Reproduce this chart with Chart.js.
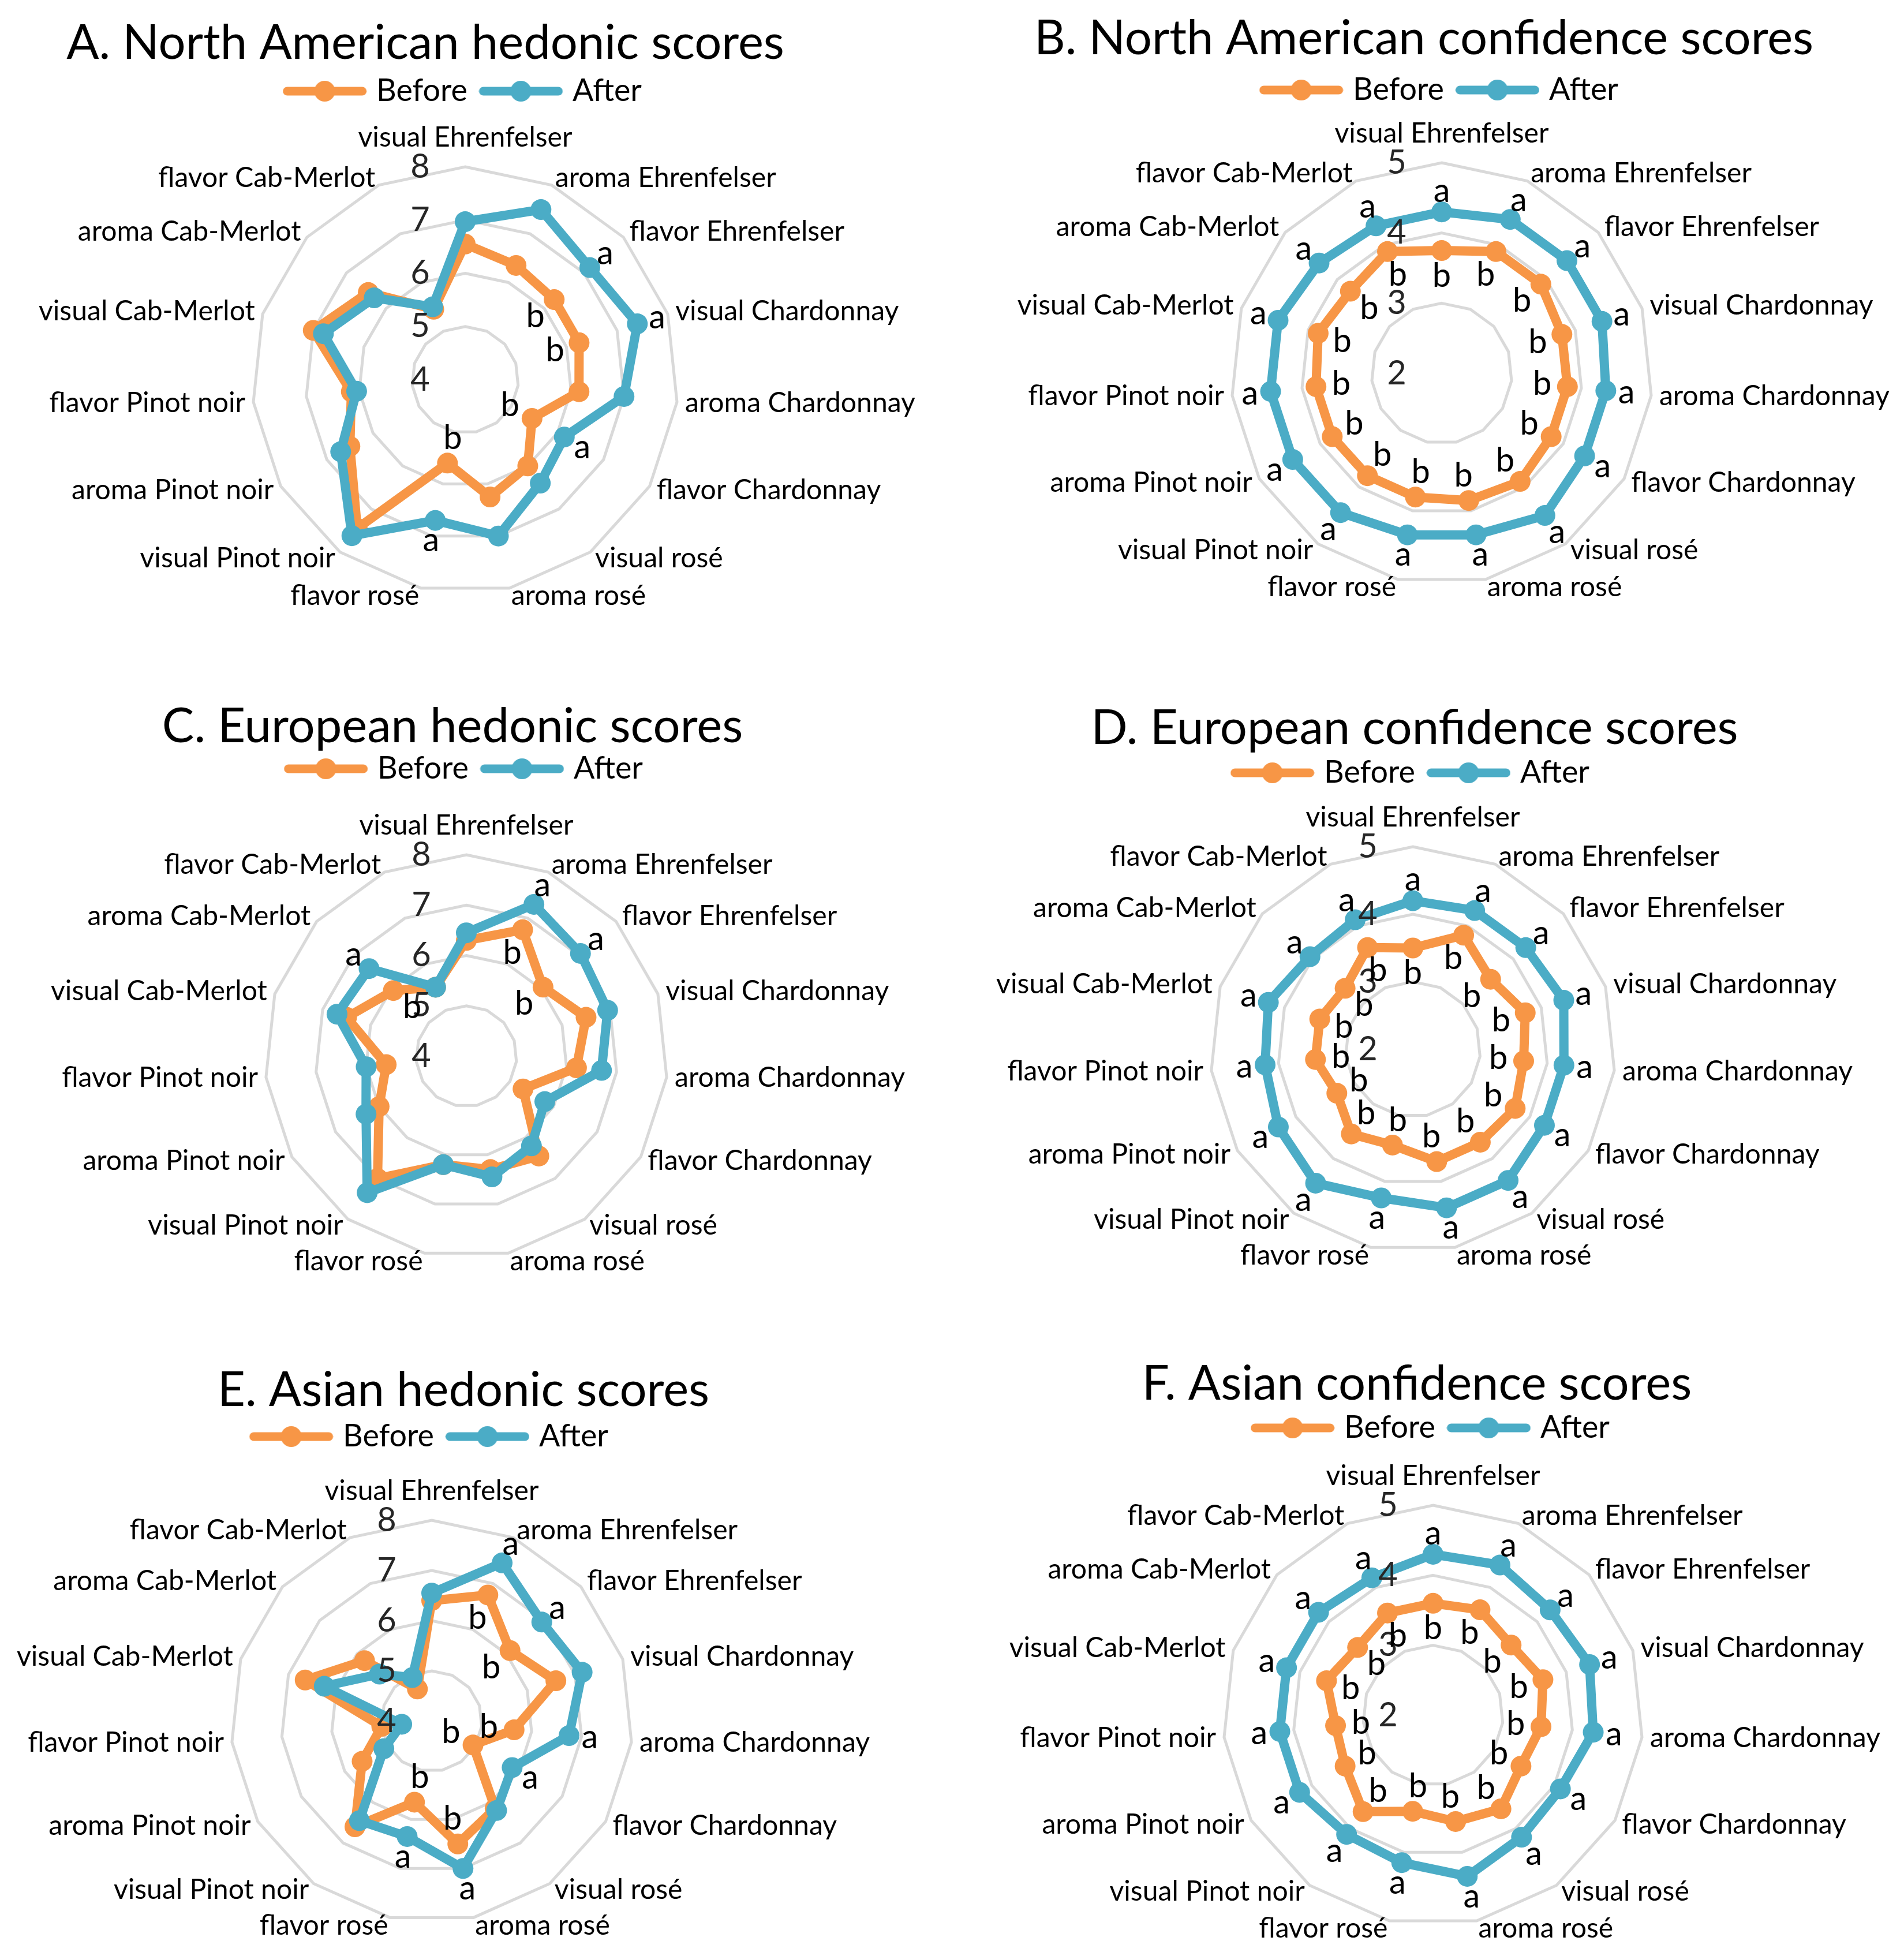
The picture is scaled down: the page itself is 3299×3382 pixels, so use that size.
<!DOCTYPE html>
<html>
<head>
<meta charset="utf-8">
<title>Hedonic and confidence scores before and after</title>
<script src="https://cdn.jsdelivr.net/npm/chart.js@4.4.1/dist/chart.umd.min.js"></script>
<style>
  html, body { margin: 0; padding: 0; background: #fff; }
  #page { position: relative; width: 3299px; height: 3382px; overflow: hidden; background: #fff; }
  #page canvas { position: absolute; }
</style>
</head>
<body>
<div id="page"></div>
<script>
// =============================================================================
// Radar panels: hedonic / confidence scores, before vs after
// =============================================================================

// ---------------------------------------------------------------------------
// Data
// ---------------------------------------------------------------------------
const CATEGORIES = [
  "visual Ehrenfelser", "aroma Ehrenfelser", "flavor Ehrenfelser",
  "visual Chardonnay", "aroma Chardonnay", "flavor Chardonnay",
  "visual rosé", "aroma rosé", "flavor rosé",
  "visual Pinot noir", "aroma Pinot noir", "flavor Pinot noir",
  "visual Cab-Merlot", "aroma Cab-Merlot", "flavor Cab-Merlot"
];
const SERIES = ["Before", "After"];

const HEDONIC_RANGE = [4, 8];
const CONFIDENCE_RANGE = [2, 5];

// A. North American hedonic
const A_BEFORE = [6.55, 6.35, 6.25, 6.25, 6.15, 5.45, 6.0, 6.25, 5.6, 7.45, 6.5, 6.15, 7.0, 6.45, 5.45];
const A_AFTER  = [6.97, 7.5, 7.15, 7.4, 7.0, 6.15, 6.4, 7.0, 6.7, 7.62, 6.7, 6.05, 6.8, 6.3, 5.5];
const A_SIG = [2, 3, 5, 8];

// B. North American confidence
const B_BEFORE = [3.75, 3.9, 3.9, 3.8, 3.8, 3.8, 3.9, 3.85, 3.8, 3.8, 3.8, 3.8, 3.85, 3.75, 3.9];
const B_AFTER  = [4.3, 4.4, 4.4, 4.4, 4.35, 4.35, 4.5, 4.35, 4.35, 4.45, 4.45, 4.45, 4.45, 4.35, 4.3];
const B_SIG = [0, 1, 2, 3, 4, 5, 6, 7, 8, 9, 10, 11, 12, 13, 14];

// C. European hedonic
const C_BEFORE = [6.3, 6.75, 6.05, 6.5, 6.2, 5.3, 6.45, 6.3, 6.2, 7.0, 6.0, 5.6, 6.5, 5.95, 5.5];
const C_AFTER  = [6.45, 7.3, 7.05, 6.95, 6.7, 5.8, 6.2, 6.45, 6.2, 7.35, 6.3, 6.0, 6.7, 6.6, 5.5];
const C_SIG = [1, 2, 13];

// D. European confidence
const D_BEFORE = [3.5, 3.85, 3.55, 3.75, 3.65, 3.75, 3.7, 3.7, 3.45, 3.55, 3.3, 3.45, 3.45, 3.35, 3.65];
const D_AFTER  = [4.2, 4.25, 4.25, 4.35, 4.25, 4.25, 4.4, 4.4, 4.25, 4.45, 4.3, 4.2, 4.25, 4.05, 4.1];
const D_SIG = [0, 1, 2, 3, 4, 5, 6, 7, 8, 9, 10, 11, 12, 13, 14];

// E. Asian hedonic
const E_BEFORE = [6.4, 6.75, 6.1, 6.6, 5.65, 4.95, 6.15, 6.5, 5.65, 6.6, 5.6, 5.0, 6.65, 5.8, 4.7];
const E_AFTER  = [6.55, 7.45, 6.95, 7.15, 6.75, 5.85, 6.2, 7.0, 6.35, 6.45, 5.1, 4.6, 6.25, 5.4, 4.95];
const E_SIG = [1, 2, 4, 5, 7, 8];

// F. Asian confidence
const F_BEFORE = [3.6, 3.65, 3.5, 3.65, 3.55, 3.45, 3.65, 3.55, 3.4, 3.7, 3.45, 3.4, 3.6, 3.45, 3.6];
const F_AFTER  = [4.3, 4.35, 4.25, 4.35, 4.3, 4.1, 4.15, 4.35, 4.15, 4.1, 4.2, 4.2, 4.2, 4.2, 4.15];
const F_SIG = [0, 1, 2, 3, 4, 5, 6, 7, 8, 9, 10, 11, 12, 13, 14];

// ---------------------------------------------------------------------------
// Panel layout (page pixels)
// ---------------------------------------------------------------------------
const PANELS = [
  { title: "A. North American hedonic scores", range: HEDONIC_RANGE, before: A_BEFORE, after: A_AFTER, sig: A_SIG,
    left: 0, top: 0, width: 1585, cx: 806, cy: 658, R: 369, titleX: 737, titleY: 102, legendY: 158 },
  { title: "B. North American confidence scores", range: CONFIDENCE_RANGE, before: B_BEFORE, after: B_AFTER, sig: B_SIG,
    left: 1650, top: 0, width: 1649, cx: 2498, cy: 647, R: 365, titleX: 2467, titleY: 94, legendY: 156 },
  { title: "C. European hedonic scores", range: HEDONIC_RANGE, before: C_BEFORE, after: C_AFTER, sig: C_SIG,
    left: 0, top: 1140, width: 1650, cx: 808, cy: 1830, R: 349, titleX: 784, titleY: 1286, legendY: 1332 },
  { title: "D. European confidence scores", range: CONFIDENCE_RANGE, before: D_BEFORE, after: D_AFTER, sig: D_SIG,
    left: 1650, top: 1140, width: 1649, cx: 2448, cy: 1818, R: 351, titleX: 2451, titleY: 1289, legendY: 1339 },
  { title: "E. Asian hedonic scores", range: HEDONIC_RANGE, before: E_BEFORE, after: E_AFTER, sig: E_SIG,
    left: 0, top: 2270, width: 1650, cx: 748, cy: 2982, R: 348, titleX: 803, titleY: 2436, legendY: 2489 },
  { title: "F. Asian confidence scores", range: CONFIDENCE_RANGE, before: F_BEFORE, after: F_AFTER, sig: F_SIG,
    left: 1650, top: 2270, width: 1649, cx: 2483, cy: 2972, R: 364, titleX: 2455, titleY: 2425, legendY: 2474 },
];

const ORANGE = "#F79646";
const BLUE = "#4BACC6";
const GRID = "#D9D9D9";
const FONT = "Lato";

// font sizes fitted to the widths of the original text
const measureCtx = document.createElement("canvas").getContext("2d");
function fitSize(text, width) {
  measureCtx.font = `100px ${FONT}`;
  return 100 * width / measureCtx.measureText(text).width;
}
const TITLE_SIZE = fitSize("A. North American hedonic scores", 1244);
const LEGEND_SIZE = fitSize("Before", 158);
const LABEL_SIZE = fitSize("visual Ehrenfelser", 371);
const TICK_SIZE = LABEL_SIZE * 1.2;
const LEGEND_PAD = 30;

Chart.defaults.font.family = FONT;

// legend marker: line with a dot, like the series
function legendMarker(color) {
  const c = document.createElement("canvas");
  c.width = 146; c.height = 40;
  const g = c.getContext("2d");
  g.strokeStyle = color; g.fillStyle = color;
  g.lineWidth = 15; g.lineCap = "round";
  g.beginPath(); g.moveTo(8, 20); g.lineTo(138, 20); g.stroke();
  g.beginPath(); g.arc(73, 20, 18, 0, Math.PI * 2); g.fill();
  return c;
}
const MARKERS = [legendMarker(ORANGE), legendMarker(BLUE)];

// ---------------------------------------------------------------------------
// Text drawn around the radar: title, category names, axis values, letters
// ---------------------------------------------------------------------------
const panelText = {
  id: "panelText",
  afterDraw(chart, args, opts) {
    const { ctx } = chart;
    const r = chart.scales.r;
    const cx = r.xCenter, cy = r.yCenter, R = r.drawingArea;
    ctx.save();

    ctx.fillStyle = "#000";
    ctx.font = `${TITLE_SIZE}px ${FONT}`;
    ctx.textAlign = "center";
    ctx.textBaseline = "alphabetic";
    ctx.fillText(opts.title, opts.titleX, opts.titleY);

    ctx.font = `${LABEL_SIZE}px ${FONT}`;
    ctx.fillText(CATEGORIES[0], cx, cy - R - 35);
    ctx.textBaseline = "middle";
    for (let i = 1; i < CATEGORIES.length; i++) {
      const p = r.getPointPosition(i, R + 14);
      ctx.textAlign = p.x > cx ? "left" : "right";
      ctx.fillText(CATEGORIES[i], p.x, p.y);
    }

    ctx.font = `${TICK_SIZE}px ${FONT}`;
    ctx.fillStyle = "#262626";
    ctx.textAlign = "center";
    r.ticks.forEach(t => ctx.fillText(String(t.value), cx - 78, cy - r.getDistanceFromCenterForValue(t.value)));

    ctx.fillStyle = "#000";
    const before = chart.data.datasets[0].data;
    const after = chart.data.datasets[1].data;
    opts.sig.forEach(i => {
      let p = r.getPointPosition(i, r.getDistanceFromCenterForValue(after[i]) + 36);
      ctx.fillText("a", p.x, p.y);
      p = r.getPointPosition(i, r.getDistanceFromCenterForValue(before[i]) - 44);
      ctx.fillText("b", p.x, p.y);
    });
    ctx.restore();
  }
};

// ---------------------------------------------------------------------------
// Build the six charts
// ---------------------------------------------------------------------------
const page = document.getElementById("page");

function series(label, data, color, order) {
  return {
    label, data, order,
    borderColor: color,
    backgroundColor: color,
    pointBackgroundColor: color,
    pointBorderWidth: 0,
    pointRadius: 18,
    borderWidth: 16,
    borderJoinStyle: "round",
    fill: false,
  };
}

PANELS.forEach(p => {
  const W = p.width;
  const padTop = p.legendY - p.top - LEGEND_PAD - LEGEND_SIZE / 2;
  const chartTop = padTop + LEGEND_SIZE + LEGEND_PAD + 10;
  const chartBottom = 2 * (p.cy - p.top) - chartTop;
  const H = Math.ceil(chartBottom + 4);

  const canvas = document.createElement("canvas");
  canvas.width = W; canvas.height = H;
  canvas.style.left = p.left + "px";
  canvas.style.top = p.top + "px";
  canvas.style.width = W + "px";
  canvas.style.height = H + "px";
  page.appendChild(canvas);

  new Chart(canvas, {
    type: "radar",
    data: {
      labels: CATEGORIES,
      datasets: [
        series(SERIES[0], p.before, ORANGE, 1),
        series(SERIES[1], p.after, BLUE, 0),
      ]
    },
    options: {
      responsive: false,
      animation: false,
      devicePixelRatio: 1,
      layout: {
        autoPadding: false,
        padding: {
          top: padTop,
          bottom: H - chartBottom,
          left: p.cx - p.R - p.left,
          right: p.left + W - p.cx - p.R,
        }
      },
      elements: { line: { tension: 0 } },
      scales: {
        r: {
          min: p.range[0],
          max: p.range[1],
          ticks: { display: false, stepSize: 1 },
          grid: { circular: false, color: GRID, lineWidth: 5 },
          angleLines: { display: false },
          pointLabels: { display: false },
        }
      },
      plugins: {
        title: { display: false },
        tooltip: { enabled: false },
        legend: {
          position: "top",
          labels: {
            usePointStyle: true,
            pointStyleWidth: 125,
            padding: LEGEND_PAD,
            color: "#000",
            font: { family: FONT, size: LEGEND_SIZE },
            generateLabels: chart => chart.data.datasets.map((ds, i) => ({
              text: ds.label,
              pointStyle: MARKERS[i],
              fillStyle: ds.borderColor,
              strokeStyle: ds.borderColor,
              lineWidth: 0,
              hidden: false,
              datasetIndex: i,
            })),
          }
        },
        panelText: {
          title: p.title,
          titleX: p.titleX - p.left,
          titleY: p.titleY - p.top,
          sig: p.sig,
        }
      }
    },
    plugins: [panelText]
  });
});
</script>
</body>
</html>
